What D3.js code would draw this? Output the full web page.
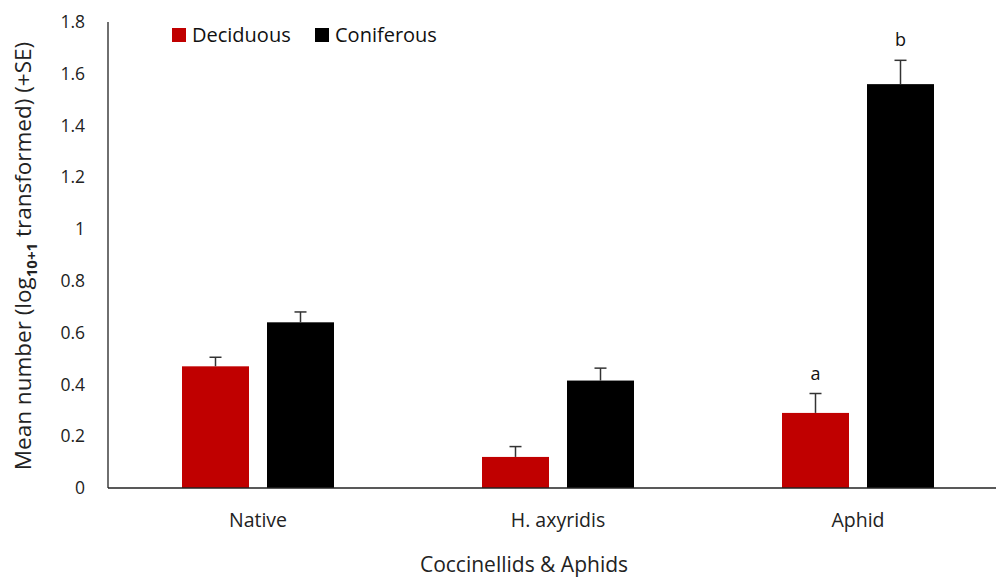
<!DOCTYPE html>
<html><head><meta charset="utf-8">
<script src="https://cdn.jsdelivr.net/npm/d3@7"></script>
<style>body{margin:0;background:#fff;}svg{display:block;font-family:"Open Sans","Noto Sans",sans-serif;}</style>
</head><body>
<svg id="c" width="996" height="580"></svg>
<script>
const categories = ["Native", "H. axyridis", "Aphid"];
const series = ["Deciduous", "Coniferous"];
const deciduous = [0.47, 0.12, 0.29];
const deciduousSE = [0.035, 0.04, 0.075];
const coniferous = [0.64, 0.415, 1.56];
const coniferousSE = [0.04, 0.048, 0.092];
const letters = [["", ""], ["", ""], ["a", "b"]];
const yTicks = [0, 0.2, 0.4, 0.6, 0.8, 1, 1.2, 1.4, 1.6, 1.8];
const colors = ["#c00000", "#000000"];

const svg = d3.select("#c");
const m = {l: 108, t: 22, b: 92};
const W = 996, H = 580;
const x = d3.scaleBand().domain(categories).range([m.l, m.l + 900]).paddingInner(0).paddingOuter(0);
const xs = d3.scaleBand().domain(series).range([0, 152]).paddingInner(18/85);
const y = d3.scaleLinear().domain([0, 1.8]).range([H - m.b, m.t]);

const vals = [deciduous, coniferous], ses = [deciduousSE, coniferousSE];
const data = [];
categories.forEach((c, i) => series.forEach((s, j) => data.push({c, s, j, v: vals[j][i], se: ses[j][i], L: letters[i][j]})));

const g = svg.append("g");
const off = (x.bandwidth() - 152) / 2;
g.selectAll("rect.bar").data(data).join("rect")
  .attr("x", d => x(d.c) + off + xs(d.s)).attr("width", xs.bandwidth())
  .attr("y", d => y(d.v)).attr("height", d => y(0) - y(d.v))
  .attr("fill", d => colors[d.j]);
const cx = d => x(d.c) + off + xs(d.s) + xs.bandwidth() / 2;
g.selectAll("line.e").data(data).join("line")
  .attr("x1", cx).attr("x2", cx).attr("y1", d => y(d.v)).attr("y2", d => y(d.v + d.se))
  .attr("stroke", "#333").attr("stroke-width", 1.5);
g.selectAll("line.cap").data(data).join("line")
  .attr("x1", d => cx(d) - 6).attr("x2", d => cx(d) + 6).attr("y1", d => y(d.v + d.se)).attr("y2", d => y(d.v + d.se))
  .attr("stroke", "#333").attr("stroke-width", 1.5);
g.selectAll("text.l").data(data.filter(d => d.L)).join("text")
  .attr("x", cx).attr("y", d => y(d.v + d.se) - 14).attr("text-anchor", "middle")
  .attr("font-size", 18).attr("fill", "#111").text(d => d.L);

svg.append("line").attr("x1", m.l).attr("x2", W).attr("y1", y(0)).attr("y2", y(0)).attr("stroke", "#222").attr("stroke-width", 1.3);
svg.append("line").attr("x1", m.l).attr("x2", m.l).attr("y1", y(0)).attr("y2", y(1.8)).attr("stroke", "#222").attr("stroke-width", 1.3);
svg.selectAll("text.yt").data(yTicks).join("text")
  .attr("x", 85).attr("y", d => y(d)).attr("dy", "0.35em").attr("text-anchor", "end")
  .attr("font-size", 17.5).attr("fill", "#222").text(d => d);
svg.selectAll("text.xt").data(categories).join("text")
  .attr("x", d => x(d) + x.bandwidth() / 2).attr("y", 527).attr("text-anchor", "middle")
  .attr("font-size", 19.5).attr("fill", "#222").text(d => d);
svg.append("text").attr("x", 524).attr("y", 572).attr("text-anchor", "middle")
  .attr("font-size", 21).attr("fill", "#222").text("Coccinellids & Aphids");
const yl = svg.append("text").attr("transform", "translate(31,256) rotate(-90)")
  .attr("text-anchor", "middle").attr("font-size", 22.5).attr("fill", "#222");
yl.append("tspan").text("Mean number (log");
yl.append("tspan").attr("font-size", 15).attr("font-weight", "bold").attr("dy", 6).text("10+1");
yl.append("tspan").attr("dy", -6).text(" transformed) (+SE)");

const lg = svg.append("g").selectAll("g").data(series).join("g")
  .attr("transform", (d, i) => `translate(${[172, 315][i]},28)`);
lg.append("rect").attr("width", 14).attr("height", 14).attr("fill", (d, i) => colors[i]);
lg.append("text").attr("x", 20).attr("y", 7).attr("dy", "0.35em").attr("font-size", 20).attr("fill", "#111").text(d => d);
</script>
</body></html>
